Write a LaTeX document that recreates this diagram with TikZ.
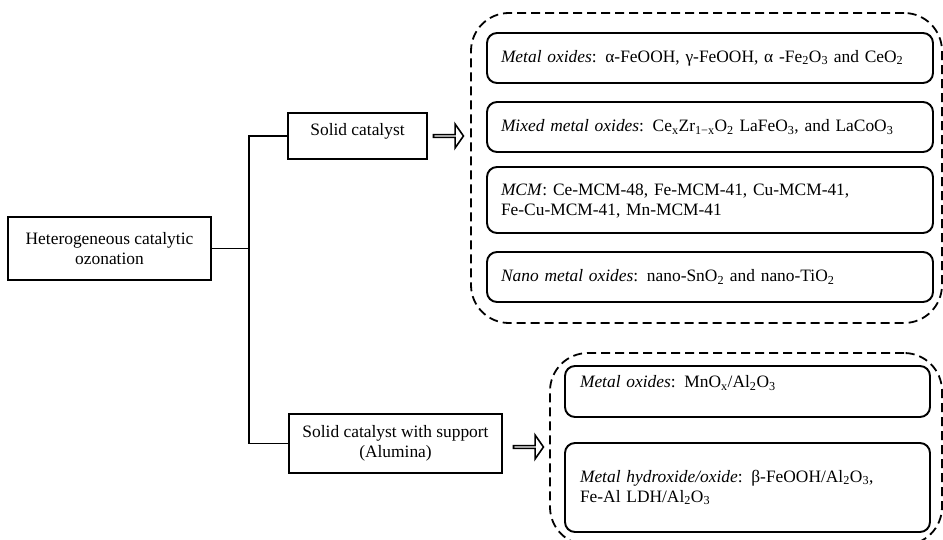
\documentclass[tikz,border=0pt]{standalone}
\usepackage{fontspec}
\setmainfont{Liberation Serif}
\usetikzlibrary{shapes.arrows}
\newcommand{\lo}[1]{\textsubscript{#1}}

\begin{document}
\begin{tikzpicture}[x=1pt,y=-1pt,
    font=\fontsize{17.4}{20}\selectfont,
    plain/.style={draw,line width=1.7pt,inner sep=0pt,align=center},
    item/.style={draw,line width=1.9pt,rounded corners=10pt,inner sep=0pt,align=left},
    group/.style={draw,line width=1.8pt,dash pattern=on 9pt off 5pt,rounded corners=38pt,inner sep=0pt},
    hollow/.style={draw,fill=white,line width=1.6pt,single arrow,minimum height=30pt,
      minimum width=24pt,single arrow head extend=6.5pt,single arrow tip angle=110,inner sep=0pt}]
    \useasboundingbox (0,0) rectangle (943,540);
    \node[plain,minimum width=203pt,minimum height=63pt] (hco) at (109.5,248.5) {Heterogeneous catalytic\\ozonation};
    \node[plain,minimum width=139pt,minimum height=46pt,text depth=14pt] (solid) at (357.5,136) {Solid catalyst};
    \node[plain,minimum width=213pt,minimum height=59pt] (support) at (395.5,443.5) {Solid catalyst with support\\(Alumina)};
    \coordinate (trunk) at (249,0);
    \draw[line width=1.7pt] (hco.east) -- (hco.east -| trunk);
    \draw[line width=1.7pt] (solid.west) -| (trunk |- support.west) -- (support.west);
    \node[hollow] (arrA) at (448,136) {};
    \node[hollow] (arrB) at (528,447) {};
    \node[group,minimum width=471pt,minimum height=310pt] (grpA) at (706.5,168) {};
    \node[group,minimum width=392pt,minimum height=192pt] (grpB) at (746,449) {};
    \begin{scope}[every node/.append style={item,minimum width=446pt,text width=418pt}]
      \node[minimum height=50pt] (oxA) at (710,58) {\textit{Metal oxides}: α-FeOOH, γ-FeOOH, α -Fe\lo{2}O\lo{3} and CeO\lo{2}};
      \node[minimum height=50pt] (mixA) at (710,127) {\textit{Mixed metal oxides}: Ce\lo{x}Zr\lo{1−x}O\lo{2} LaFeO\lo{3}, and LaCoO\lo{3}};
      \node[minimum height=66pt,text depth=20pt] (mcmA) at (710,200) {\textit{MCM}: Ce-MCM-48, Fe-MCM-41, Cu-MCM-41,\\Fe-Cu-MCM-41, Mn-MCM-41};
      \node[minimum height=50pt] (nanoA) at (710,277) {\textit{Nano metal oxides}: nano-SnO\lo{2} and nano-TiO\lo{2}};
    \end{scope}
    \begin{scope}[every node/.append style={item,minimum width=365pt,text width=335pt}]
      \node[minimum height=51pt,text depth=20pt] (oxB) at (747.5,391.5) {\textit{Metal oxides}: MnO\lo{x}/Al\lo{2}O\lo{3}};
      \node[minimum height=89pt] (hydB) at (747.5,487.5) {\textit{Metal hydroxide/oxide}: β-FeOOH/Al\lo{2}O\lo{3},\\Fe-Al LDH/Al\lo{2}O\lo{3}};
    \end{scope}
\end{tikzpicture}
\end{document}
